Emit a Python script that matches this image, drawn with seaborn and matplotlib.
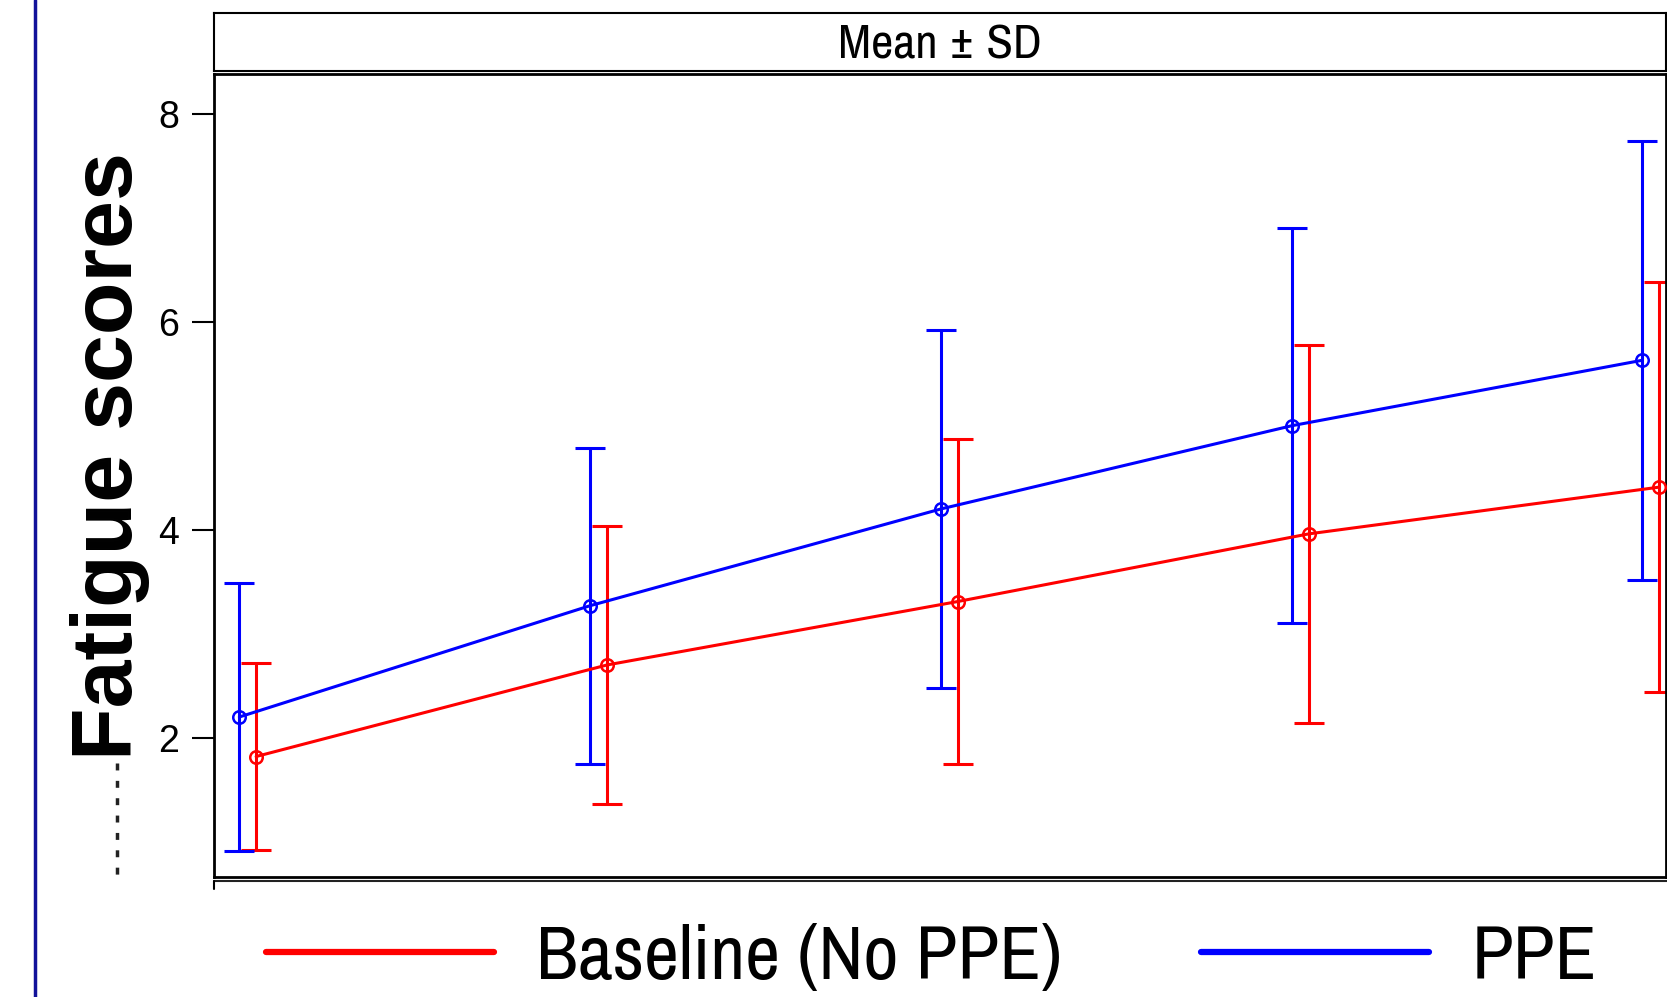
import pandas as pd
import matplotlib
matplotlib.use("Agg")
import matplotlib.pyplot as plt
from matplotlib.lines import Line2D
import seaborn as sns

# values (mean and SD per visit)
visits = [0, 1, 2, 3, 4]
groups = ["Baseline (No PPE)", "PPE"]
baseline_mean = [1.82, 2.70, 3.31, 3.96, 4.41]
baseline_sd = [0.90, 1.34, 1.56, 1.82, 1.97]
ppe_mean = [2.20, 3.27, 4.20, 5.00, 5.63]
ppe_sd = [1.29, 1.52, 1.72, 1.90, 2.11]
yticks = [2, 4, 6, 8]

colors = {"Baseline (No PPE)": "#ff0000", "PPE": "#0000ff"}
dodge = {"Baseline (No PPE)": 0.024, "PPE": -0.024}

rows = []
for g, means, sds in [(groups[0], baseline_mean, baseline_sd), (groups[1], ppe_mean, ppe_sd)]:
    for v, m, s in zip(visits, means, sds):
        rows.append({"group": g, "visit": v, "x": v + dodge[g], "mean": m, "sd": s})
df = pd.DataFrame(rows)

sns.set_style("white")
plt.rcParams["font.family"] = ["Liberation Sans", "DejaVu Sans"]
plt.rcParams["text.color"] = "black"
plt.rcParams["ytick.color"] = "black"
narrow = ["Archivo Narrow", "Liberation Sans"]

fig = plt.figure(figsize=(16.67, 9.97), dpi=100)
ax = fig.add_axes([0.1282, 0.1204, 0.8712, 0.805])

# error bars (mean +/- SD)
for g in groups:
    d = df[df["group"] == g]
    ax.errorbar(d["x"], d["mean"], yerr=d["sd"], fmt="none", ecolor=colors[g], color=colors[g],
                elinewidth=2.2, capsize=11, capthick=2.2, zorder=2)

sns.lineplot(data=df, x="x", y="mean", hue="group", hue_order=groups, palette=colors,
             marker="o", markersize=9, linewidth=2.2, legend=False, ax=ax, zorder=3)
for line in ax.lines:
    if line.get_marker() == "o":
        line.set_markerfacecolor("none")
        line.set_markeredgecolor(line.get_color())
        line.set_markeredgewidth(1.8)

ax.set_xlim(-0.097, 4.043)
ax.set_ylim(0.662, 8.378)
ax.set_xticks([])
ax.set_yticks(yticks)
ax.set_xlabel("")
ax.set_ylabel("")
ax.tick_params(axis="y", left=True, length=16, width=1.5, labelsize=27, pad=9,
               color="black", labelcolor="black")
for sp in ax.spines.values():
    sp.set_linewidth(2)
    sp.set_color("black")

# header strip
hax = fig.add_axes([0.1282, 0.9288, 0.8712, 0.058])
hax.set_xticks([])
hax.set_yticks([])
for sp in hax.spines.values():
    sp.set_linewidth(1.5)
    sp.set_color("black")
hax.text(0.5, 0.45, "Mean ± SD", ha="center", va="center", fontsize=35, family=narrow)

# second baseline under the panel with its left tick
fig.add_artist(Line2D([213.7 / 1667, 1.0], [1 - 881 / 997] * 2, color="#222222", lw=1.5))
fig.add_artist(Line2D([213.7 / 1667] * 2, [1 - 881 / 997, 1 - 889 / 997], color="black", lw=1.5))

# navy rule at the left edge
fig.add_artist(Line2D([35 / 1667] * 2, [0, 1], color="#12129a", lw=2.5))

# faint dashed remnant under the axis title
fig.add_artist(Line2D([117 / 1667] * 2, [1 - 763 / 997, 1 - 882 / 997], color="#222222",
                      lw=2.5, dashes=(2, 3)))

fig.text(110 / 1667, 1 - 456 / 997, "Fatigue scores", rotation=90, fontweight="bold",
         fontsize=62, ha="center", va="center")

handles = [Line2D([], [], color=colors[g], lw=4.5) for g in groups]
fig.legend(handles=handles, labels=groups, loc="center left",
           bbox_to_anchor=(266 / 1667, 1 - 958 / 997), ncol=2, frameon=False,
           prop={"family": narrow, "size": 55}, handlelength=2.98, handletextpad=0.56,
           columnspacing=1.82, borderpad=0, borderaxespad=0)

fig.savefig("out.png", dpi=100)
